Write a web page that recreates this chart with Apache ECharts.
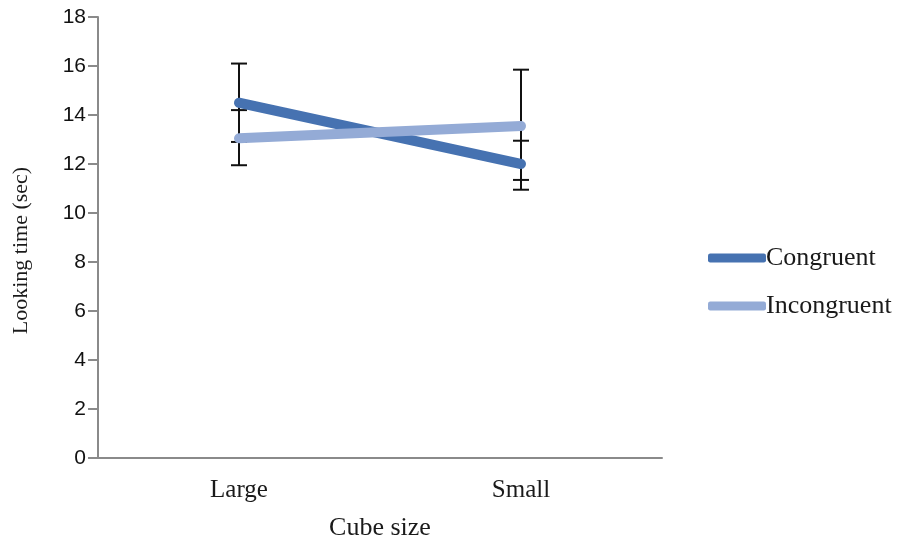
<!DOCTYPE html>
<html>
<head>
<meta charset="utf-8">
<script src="https://cdn.jsdelivr.net/npm/echarts@6/dist/echarts.min.js"></script>
<style>html,body{margin:0;padding:0;background:#fff;}#c{width:897px;height:542px;}</style>
</head>
<body>
<div id="c"></div>
<script>
var categories = ['Large', 'Small'];
var congruent = [14.5, 12.0];
var incongruent = [13.05, 13.55];
var congruentLow = [12.9, 10.95];
var congruentHigh = [16.1, 12.95];
var incongruentLow = [11.95, 11.35];
var incongruentHigh = [14.2, 15.85];
var yTicks = [0, 2, 4, 6, 8, 10, 12, 14, 16, 18];

var errData = [];
for (var i = 0; i < categories.length; i++) {
  errData.push([i, congruentLow[i], congruentHigh[i]]);
  errData.push([i, incongruentLow[i], incongruentHigh[i]]);
}

var chart = echarts.init(document.getElementById('c'));
var serif = '"Liberation Serif", "Times New Roman", serif';
chart.setOption({
  animation: false,
  backgroundColor: '#ffffff',
  grid: { left: 98, right: 235, top: 17, bottom: 84, containLabel: false, outerBoundsMode: 'none' },
  legend: {
    orient: 'vertical',
    left: 703,
    top: 240,
    itemWidth: 58,
    itemHeight: 9,
    itemGap: 22,
    icon: 'roundRect',
    textStyle: { fontFamily: serif, fontSize: 26, color: '#1a1a1a', lineHeight: 26, padding: [0, 0, 0, -5] },
    data: ['Congruent', 'Incongruent']
  },
  xAxis: {
    type: 'category',
    data: categories,
    boundaryGap: true,
    name: 'Cube size',
    nameLocation: 'middle',
    nameGap: 57,
    nameTextStyle: { fontFamily: serif, fontSize: 26, color: '#1a1a1a' },
    axisLine: { lineStyle: { color: '#8a8a8a', width: 2 } },
    axisTick: { show: false },
    axisLabel: { fontFamily: serif, fontSize: 25, color: '#1a1a1a', margin: 20 }
  },
  yAxis: {
    type: 'value',
    min: yTicks[0],
    max: yTicks[yTicks.length - 1],
    interval: 2,
    name: 'Looking time (sec)',
    nameLocation: 'middle',
    nameGap: 66,
    nameTextStyle: { fontFamily: serif, fontSize: 22, color: '#1a1a1a', padding: [0, 26, 0, 0] },
    splitLine: { show: false },
    axisLine: { show: true, lineStyle: { color: '#8a8a8a', width: 2 } },
    axisTick: { show: true, length: 10, lineStyle: { color: '#8a8a8a', width: 2 } },
    axisLabel: { fontFamily: '"Liberation Sans", Arial, sans-serif', fontSize: 21, color: '#111', margin: 12 }
  },
  series: [
    {
      type: 'custom',
      name: 'err',
      data: errData,
      z: 1,
      renderItem: function (params, api) {
        var x = api.value(0);
        var lo = api.coord([x, api.value(1)]);
        var hi = api.coord([x, api.value(2)]);
        var hw = 8;
        var st = { stroke: '#111', lineWidth: 2 };
        return {
          type: 'group',
          children: [
            { type: 'line', shape: { x1: lo[0], y1: lo[1], x2: hi[0], y2: hi[1] }, style: st },
            { type: 'line', shape: { x1: lo[0] - hw, y1: lo[1], x2: lo[0] + hw, y2: lo[1] }, style: st },
            { type: 'line', shape: { x1: hi[0] - hw, y1: hi[1], x2: hi[0] + hw, y2: hi[1] }, style: st }
          ]
        };
      }
    },
    {
      name: 'Congruent',
      type: 'line',
      data: congruent,
      color: '#4672B1',
      showSymbol: false,
      symbol: 'none',
      lineStyle: { width: 10, cap: 'round', color: '#4672B1' },
      z: 2
    },
    {
      name: 'Incongruent',
      type: 'line',
      data: incongruent,
      color: '#94ABD6',
      showSymbol: false,
      symbol: 'none',
      lineStyle: { width: 10, cap: 'round', color: '#94ABD6' },
      z: 3
    }
  ]
});
</script>
</body>
</html>
